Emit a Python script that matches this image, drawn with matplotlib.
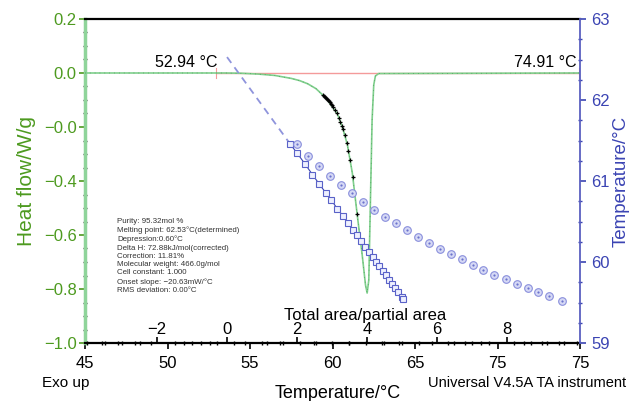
import matplotlib
matplotlib.use("Agg")
import matplotlib.pyplot as plt
import matplotlib.transforms as mtransforms

plt.rcParams['font.family'] = ['Liberation Sans', 'DejaVu Sans']

# ---- data ----
dsc_T = [45, 53.5, 54.5, 55.5, 56.5, 57.5, 58.0, 58.5, 59.0, 59.4, 59.7, 60.0, 60.3, 60.6,
         60.9, 61.2, 61.5, 61.8, 62.0, 62.1, 62.2, 62.3, 62.4, 62.5, 62.6, 62.8, 75]
dsc_hf = [0.0, 0.0, -0.001, -0.004, -0.009, -0.020, -0.028, -0.040, -0.058, -0.081, -0.100,
          -0.126, -0.152, -0.200, -0.265, -0.370, -0.526, -0.674, -0.785, -0.815, -0.767,
          -0.470, -0.174, -0.044, -0.011, -0.002, 0.0]

pts_T = [59.42, 59.48, 59.55, 59.61, 59.67, 59.73, 59.79, 59.85, 59.91, 59.97, 60.03, 60.15,
         60.27, 60.39, 60.45, 60.58, 60.64, 60.76, 60.88, 60.94, 61.06, 61.24, 61.30, 61.48]
pts_hf = [-0.081, -0.085, -0.089, -0.092, -0.096, -0.100, -0.104, -0.109, -0.115, -0.120,
          -0.126, -0.137, -0.148, -0.167, -0.181, -0.196, -0.207, -0.230, -0.259, -0.289,
          -0.322, -0.385, -0.444, -0.522]

onset_T = 52.94
end_T = 74.91

fit_x = [0.0, 1.8]
fit_T = [62.53, 61.46]

sq_x = [1.80, 2.01, 2.23, 2.44, 2.64, 2.83, 2.97, 3.15, 3.31, 3.45, 3.59, 3.71, 3.83, 3.94,
        4.06, 4.16, 4.26, 4.35, 4.45, 4.54, 4.64, 4.73, 4.81, 4.89, 4.99, 5.04]
sq_T = [61.46, 61.34, 61.21, 61.08, 60.96, 60.85, 60.77, 60.66, 60.57, 60.48, 60.40, 60.33,
        60.26, 60.19, 60.12, 60.06, 60.00, 59.95, 59.89, 59.84, 59.78, 59.73, 59.68, 59.63,
        59.57, 59.54]

circ_x = [2.00, 2.31, 2.63, 2.94, 3.26, 3.57, 3.89, 4.20, 4.51, 4.83, 5.14, 5.46, 5.77, 6.09,
          6.40, 6.71, 7.03, 7.31, 7.63, 7.97, 8.29, 8.60, 8.89, 9.20, 9.57]
circ_T = [61.46, 61.31, 61.19, 61.06, 60.95, 60.85, 60.74, 60.64, 60.56, 60.48, 60.40, 60.31,
          60.24, 60.16, 60.10, 60.04, 59.96, 59.90, 59.84, 59.79, 59.73, 59.68, 59.63, 59.58,
          59.52]

hf_ticks = [0.2, 0.0, -0.2, -0.4, -0.6, -0.8, -1.0]
hf_labels = ["0.2", "0.0", "\u22120.0", "\u22120.4", "\u22120.6", "\u22120.8", "\u22121.0"]
T_ticks = [45, 50, 55, 60, 65, 70, 75]
T_labels = ["45", "50", "55", "60", "65", "75", "75"]
temp_ticks = [59, 60, 61, 62, 63]
area_ticks = [-2, 0, 2, 4, 6, 8]
area_labels = ["\u22122", "0", "2", "4", "6", "8"]

info_lines = ["Purity: 95.32mol %",
              "Melting point: 62.53\u00b0C(determined)",
              "Depression:0.60\u00b0C",
              "Delta H: 72.88kJ/mol(corrected)",
              "Correction: 11.81%",
              "Molecular weight: 466.0g/mol",
              "Cell constant: 1.000",
              "Onset slope: \u221220.63mW/\u00b0C",
              "RMS deviation: 0.00\u00b0C"]

GREEN = '#4d9a1f'
BLUE = '#3b44b3'

fig = plt.figure(figsize=(6.30, 4.01), dpi=100)
ax = fig.add_axes([85/630, 1-343/401, 495/630, 324/401])
ax.set_xlim(45, 75)
ax.set_ylim(-1.0, 0.2)

# DSC curve
ax.plot(dsc_T, dsc_hf, color='#7fcf8c', lw=1.2, zorder=3)
ax.plot(dsc_T, dsc_hf, color='#3f8f4f', lw=0.5, ls=(0, (1, 6)), zorder=3)
ax.plot([onset_T, end_T], [0.0, 0.0], color='#f49a9a', lw=1.0, zorder=2)
ax.plot([onset_T, onset_T], [-0.02, 0.02], color='#f49a9a', lw=0.8)
ax.plot([end_T, end_T], [-0.02, 0.02], color='#f49a9a', lw=0.8)
ax.plot(pts_T, pts_hf, ls='none', marker='+', ms=3, mew=0.9, color='black', zorder=4)

ax.text(onset_T + 0.1, 0.012, "52.94 \u00b0C", ha='right', va='bottom', fontsize=11.5)
ax.text(end_T - 0.1, 0.012, "74.91 \u00b0C", ha='right', va='bottom', fontsize=11.5)

ax.text(0.065, 0.385, "\n".join(info_lines), transform=ax.transAxes, fontsize=5.7,
        color='#333333', ha='left', va='top', linespacing=1.25)

ax.set_xticks(T_ticks)
ax.set_xticklabels(T_labels, fontsize=12)
ax.set_xticks(range(45, 76), minor=True)
ax.set_yticks(hf_ticks)
ax.set_yticklabels(hf_labels, fontsize=12, color=GREEN)
ax.set_yticks([-1.0 + 0.05 * i for i in range(25)], minor=True)
ax.tick_params(axis='x', which='major', direction='out', length=4, width=1.2, pad=5)
ax.tick_params(axis='x', which='minor', direction='inout', length=3, width=1.0)
ax.tick_params(axis='y', which='major', direction='out', length=4, width=1.2, color=GREEN, pad=2)
ax.tick_params(axis='y', which='minor', direction='inout', length=3, width=1.0, color='#333333')

ax.spines['left'].set_color('#8fd49a')
ax.spines['left'].set_linewidth(2.5)
ax.spines['top'].set_linewidth(1.6)
ax.spines['bottom'].set_linewidth(1.6)
ax.spines['right'].set_visible(False)

ax.set_ylabel("Heat flow/W/g", color=GREEN, fontsize=15, labelpad=6)

# right temperature axis
ax2 = ax.twinx()
ax2.set_ylim(59, 63)
ax2.set_yticks(temp_ticks)
ax2.set_yticklabels([str(t) for t in temp_ticks], fontsize=12, color=BLUE)
ax2.set_yticks([59 + 0.25 * i for i in range(17)], minor=True)
ax2.tick_params(axis='y', which='major', direction='out', length=4, width=1.2, color=BLUE, pad=4)
ax2.tick_params(axis='y', which='minor', direction='inout', length=3, width=1.0, color=BLUE)
for s in ['left', 'top', 'bottom']:
    ax2.spines[s].set_visible(False)
ax2.spines['right'].set_color('#5a60c0')
ax2.spines['right'].set_linewidth(1.3)
ax2.set_ylabel("Temperature/\u00b0C", color=BLUE, fontsize=13.5, labelpad=2)

# total area / partial area axis
ax3 = ax2.twiny()
ax3.set_xlim(-4.06, 10.09)
ax3.set_ylim(59, 63)
for s in ax3.spines.values():
    s.set_visible(False)
ax3.xaxis.set_ticks_position('bottom')
ax3.set_xticks(area_ticks)
ax3.set_xticklabels([])
ax3.set_xticks([-4 + 0.5 * i for i in range(29)], minor=True)
ax3.tick_params(axis='x', which='major', direction='in', length=4, width=1.2)
ax3.tick_params(axis='x', which='minor', direction='inout', length=2.5, width=1.0)
ax3.tick_params(axis='y', which='both', left=False, right=False, labelleft=False, labelright=False)
trans = mtransforms.blended_transform_factory(ax3.transData, ax3.transAxes)
for v, lab in zip(area_ticks, area_labels):
    ax3.text(v, 0.018, lab, transform=trans, ha='center', va='bottom', fontsize=12)
ax3.text(0.566, 0.062, "Total area/partial area", transform=ax3.transAxes,
         ha='center', va='bottom', fontsize=12)

ax3.plot(fit_x, fit_T, color='#8f94dc', lw=1.3, ls=(0, (4, 3)), zorder=3)
ax3.plot(sq_x, sq_T, color='#3b44b3', lw=0.8, marker='s', ms=4.2, mfc='#eef0ff',
         mec='#5a62c8', mew=0.8, zorder=4)
ax3.plot(circ_x, circ_T, ls='none', marker='o', ms=5.5, mfc='#d6d9f5', mec='#8a8fdc',
         mew=0.8, zorder=4)
ax3.plot(circ_x, circ_T, ls='none', marker='o', ms=1.6, mfc='#6b72cc', mec='none', zorder=5)

fig.text(42/630, 1-383/401, "Exo up", fontsize=11, ha='left', va='center')
fig.text(626/630, 1-383/401, "Universal V4.5A TA instrument", fontsize=10.5, ha='right', va='center')
fig.text(338/630, 1-393/401, "Temperature/\u00b0C", fontsize=13, ha='center', va='center')

fig.savefig("out.png", dpi=100)
